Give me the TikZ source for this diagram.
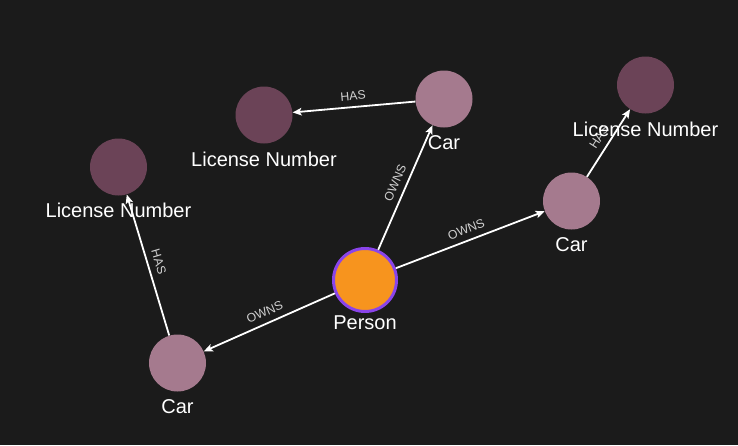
\documentclass[tikz,border=0pt]{standalone}
\usepackage{fontspec}
\setmainfont{Liberation Sans}
\usetikzlibrary{arrows.meta}
\definecolor{bgc}{HTML}{1B1B1B}
\definecolor{carc}{HTML}{A57A8E}
\definecolor{licc}{HTML}{6B4357}
\definecolor{personc}{HTML}{F7941E}
\definecolor{personb}{HTML}{8A44EA}
\definecolor{relc}{HTML}{D0D0D0}
\begin{document}
\begin{tikzpicture}[x=1pt,y=-1pt,
  car/.style={circle, fill=carc, minimum size=57pt, inner sep=0pt},
  lic/.style={circle, fill=licc, minimum size=57pt, inner sep=0pt},
  person/.style={circle, fill=personc, draw=personb, line width=3pt, minimum size=63pt, inner sep=0pt},
  caption/.style={text=white, font=\fontsize{20}{21}\selectfont, inner sep=0pt},
  rel/.style={draw=white, line width=1.8pt, -{Stealth[length=9pt,width=7.5pt,inset=2pt]}},
  rlabel/.style={sloped, midway, above=5pt, inner sep=1pt, text=relc, font=\fontsize{12.3}{13}\selectfont}]
\fill[bgc] (0,0) rectangle (738,445);
\useasboundingbox (0,0) rectangle (738,445);
% nodes
\node[person] (p) at (365,280) {};
\node[car] (c1) at (444,99) {};
\node[lic] (l1) at (264,115) {};
\node[lic] (l2) at (118.5,167) {};
\node[car] (c2) at (177.5,363) {};
\node[car] (c3) at (571.5,201) {};
\node[lic] (l3) at (645.5,85) {};
% edges
\draw[rel] (p) -- node[rlabel]{OWNS} (c1);
\draw[rel] (c1) -- node[rlabel]{HAS} (l1);
\draw[rel] (p) -- node[rlabel]{OWNS} (c3);
\draw[rel] (p) -- node[rlabel]{OWNS} (c2);
\draw[rel] (c2) -- node[rlabel]{HAS} (l2);
\draw[rel] (c3) -- node[rlabel]{HAS} (l3);
% captions
\node[caption] (tp) at (365,323) {Person};
\node[caption] (tc1) at (444,143) {Car};
\node[caption] (tl1) at (264,159) {License Number};
\node[caption] (tl2) at (118.5,210) {License Number};
\node[caption] (tc2) at (177.5,407) {Car};
\node[caption] (tc3) at (571.5,245) {Car};
\node[caption] (tl3) at (645.5,129) {License Number};
\end{tikzpicture}
\end{document}
